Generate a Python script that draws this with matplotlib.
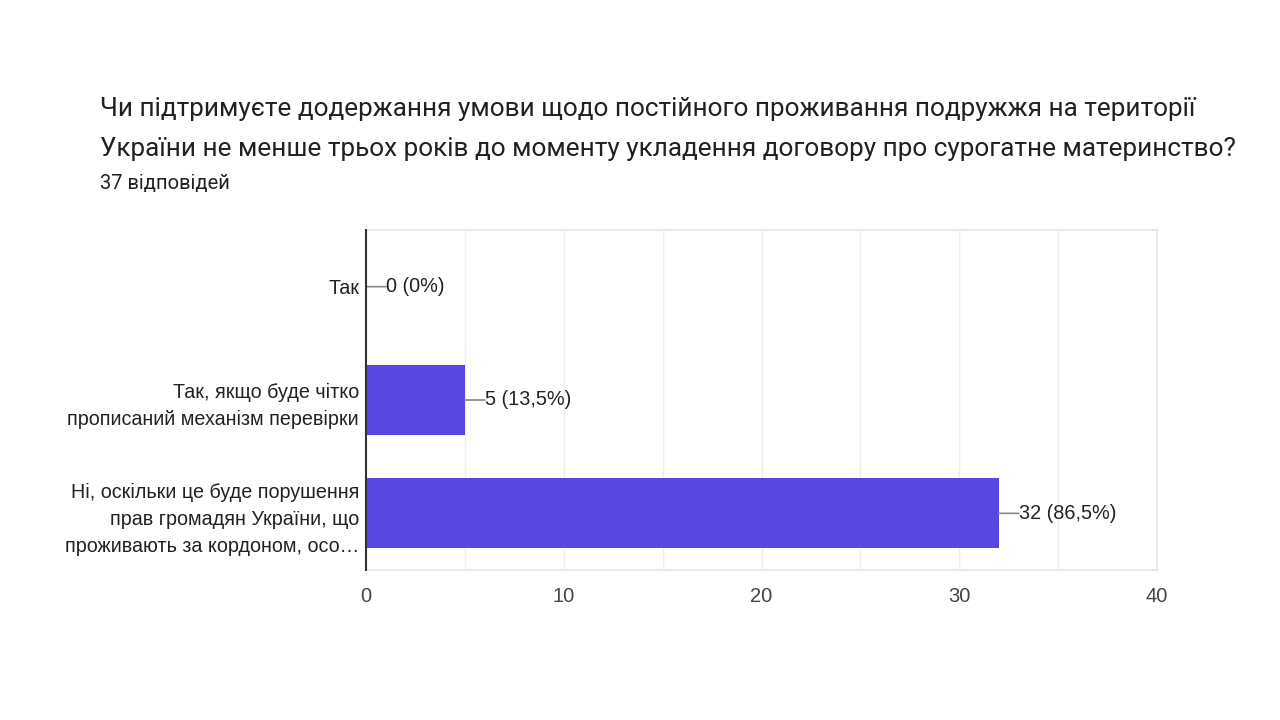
import matplotlib
matplotlib.use("Agg")
import matplotlib.pyplot as plt

categories = [
    "Так",
    "Так, якщо буде чітко\nпрописаний механізм перевірки",
    "Ні, оскільки це буде порушення\nправ громадян України, що\nпроживають за кордоном, осо…",
]
values = [0, 5, 32]
labels = ["0 (0%)", "5 (13,5%)", "32 (86,5%)"]
xticks = [0, 10, 20, 30, 40]

title = ("Чи підтримуєте додержання умови щодо постійного проживання подружжя на території\n"
         "України не менше трьох років до моменту укладення договору про сурогатне материнство?")
subtitle = "37 відповідей"

FONT_A = ["Liberation Sans", "DejaVu Sans"]
FONT_R = ["Roboto", "DejaVu Sans"]

fig = plt.figure(figsize=(12.8, 7.2), dpi=100)
ax = fig.add_axes([366/1280, 1-570/720, (1157-366)/1280, 340/720])

ypos = list(range(len(categories)))
ax.barh(ypos, values, height=0.62, color="#5847e2", zorder=3)
ax.set_xlim(0, 40)
ax.set_ylim(2.5, -0.5)
ax.set_xticks(xticks)
ax.set_xticks(range(0, 41, 5), minor=True)
ax.set_yticks(ypos)
ax.set_yticklabels(categories, family=FONT_A, fontsize=14.2,
                   color="#222222", linespacing=1.52)
ax.tick_params(axis="y", length=0, pad=5)
ax.tick_params(axis="x", which="both", length=0, pad=12, labelsize=14.5, labelcolor="#444444")
for t in ax.get_xticklabels():
    t.set_family(FONT_A)
ax.grid(axis="x", which="both", color="#efefef", linewidth=1.0, zorder=0)
for s in ["top", "right", "bottom"]:
    ax.spines[s].set_color("#e8e8e8")
    ax.spines[s].set_linewidth(1.5)
ax.spines["left"].set_color("#333333")
ax.spines["left"].set_linewidth(1.5)
ax.spines["left"].set_zorder(5)

for y, v, lab in zip(ypos, values, labels):
    ax.annotate("", xy=(v, y), xytext=(20, 0), textcoords="offset pixels",
                arrowprops=dict(arrowstyle="-", color="#888888", lw=1.2, shrinkA=0, shrinkB=0),
                zorder=4)
    ax.annotate(lab, xy=(v, y), xytext=(20, 0), textcoords="offset pixels",
                ha="left", va="center", fontsize=14.3, color="#222222",
                family=FONT_A, zorder=4)

fig.text(100/1280, 1-129/720, title, ha="left", va="center", fontsize=18.8,
         family=FONT_R, color="#202124", linespacing=1.82)
fig.text(100/1280, 1-183/720, subtitle, ha="left", va="center", fontsize=14.5,
         family=FONT_R, color="#202124")

fig.savefig("out.png", dpi=100, facecolor="white")
